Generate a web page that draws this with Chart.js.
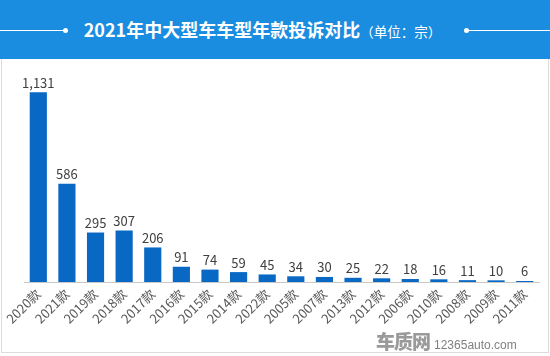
<!DOCTYPE html>
<html>
<head>
<meta charset="utf-8">
<script src="https://cdn.jsdelivr.net/npm/chart.js@4/dist/chart.umd.min.js"></script>
<style>
  html, body { margin: 0; padding: 0; background: #fff; }
  body { width: 550px; height: 356px; position: relative; overflow: hidden; font-family: "Noto Sans CJK SC", sans-serif; }
  #header { position: absolute; left: 0; top: 0; width: 550px; height: 59px; background: #1b8de0; }
  #title { position: absolute; left: 0; width: 525px; top: 0; height: 59px; line-height: 59px; text-align: center; color: #fff; white-space: nowrap; }
  #title .main { font-size: 18px; font-weight: 700; }
  #title .unit { font-size: 13.5px; font-weight: 400; }
  .line { position: absolute; top: 30px; height: 1px; background: #fff; }
  .dot { position: absolute; top: 28px; width: 5px; height: 5px; border-radius: 50%; background: #fff; }
  #frame { position: absolute; left: 1px; top: 59px; width: 546px; height: 293px; border: 1px solid #dcdcdc; border-top: none; }
  #wrap { position: absolute; left: 0; top: 60px; width: 550px; height: 296px; }
  #wm { position: absolute; left: 376px; top: 327px; white-space: nowrap; color: #8a8a8a; }
  #wm .logo { font-size: 19px; font-weight: 900; letter-spacing: -1px; color: #9a9a9a; }
  #wm .site { font-size: 12px; font-family: "Liberation Sans", Arial, sans-serif; margin-left: 4px; color: #808080; }
</style>
</head>
<body>
<div id="header">
  <div class="line" style="left:0;width:65px;"></div>
  <div class="dot" style="left:63px;"></div>
  <div class="line" style="left:467px;width:83px;"></div>
  <div class="dot" style="left:464px;"></div>
  <div id="title"><span class="main">2021年中大型车车型年款投诉对比</span><span class="unit">（单位：宗）</span></div>
</div>
<div id="frame"></div>
<div id="wrap"><canvas id="c"></canvas></div>
<div id="wm"><span class="logo">车质网</span><span class="site">12365auto.com</span></div>
<script>
const categories = ["2020款","2021款","2019款","2018款","2017款","2016款","2015款","2014款","2022款","2005款","2007款","2013款","2012款","2006款","2010款","2008款","2009款","2011款"];
const complaints = [1131, 586, 295, 307, 206, 91, 74, 59, 45, 34, 30, 25, 22, 18, 16, 11, 10, 6];

const valueLabels = {
  id: 'valueLabels',
  afterDatasetsDraw(chart) {
    const ctx = chart.ctx;
    const meta = chart.getDatasetMeta(0);
    ctx.save();
    ctx.font = '13px "Noto Sans CJK SC", sans-serif';
    ctx.fillStyle = '#404040';
    ctx.textAlign = 'center';
    ctx.textBaseline = 'bottom';
    meta.data.forEach((bar, i) => {
      ctx.fillText(complaints[i].toLocaleString('en-US'), bar.x, bar.y - 3);
    });
    ctx.restore();
  }
};

new Chart(document.getElementById('c'), {
  type: 'bar',
  data: {
    labels: categories,
    datasets: [{
      data: complaints,
      backgroundColor: '#0868c4',
      categoryPercentage: 1,
      barPercentage: 0.6
    }]
  },
  options: {
    responsive: true,
    maintainAspectRatio: false,
    animation: false,
    layout: { padding: { left: 24, right: 11, top: 10, bottom: 0 } },
    plugins: { legend: { display: false }, tooltip: { enabled: false } },
    scales: {
      x: {
        grid: { display: false, drawTicks: false },
        border: { display: true, color: '#c8c8c8', width: 1 },
        ticks: {
          color: '#595959',
          font: { size: 13, family: '"Noto Sans CJK SC", sans-serif' },
          maxRotation: 45,
          minRotation: 45,
          autoSkip: false,
          padding: 4
        },
        afterFit(scale) { scale.height = 74; }
      },
      y: {
        display: false,
        min: 0,
        max: 1264
      }
    }
  },
  plugins: [valueLabels]
});
</script>
</body>
</html>
